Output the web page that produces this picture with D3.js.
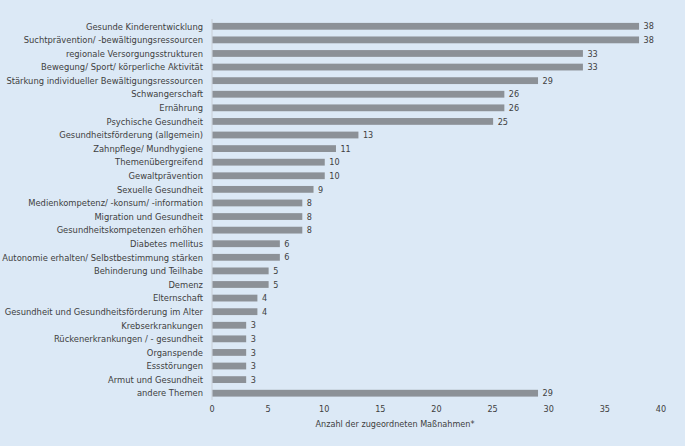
<!DOCTYPE html>
<html><head><meta charset="utf-8">
<script src="https://cdn.jsdelivr.net/npm/d3@7"></script>
<style>
body { margin: 0; background: #dce9f6; }
text { font-family: 'Liberation Sans Narrow', 'DejaVu Sans Condensed', sans-serif; fill: #404040; }
</style></head>
<body><div id="chart"></div>
<script>
const categories = ['Gesunde Kinderentwicklung', 'Suchtprävention/ -bewältigungsressourcen', 'regionale Versorgungsstrukturen',
  'Bewegung/ Sport/ körperliche Aktivität', 'Stärkung individueller Bewältigungsressourcen', 'Schwangerschaft', 'Ernährung',
  'Psychische Gesundheit', 'Gesundheitsförderung (allgemein)', 'Zahnpflege/ Mundhygiene', 'Themenübergreifend', 'Gewaltprävention',
  'Sexuelle Gesundheit', 'Medienkompetenz/ -konsum/ -information', 'Migration und Gesundheit', 'Gesundheitskompetenzen erhöhen',
  'Diabetes mellitus', 'Autonomie erhalten/ Selbstbestimmung stärken', 'Behinderung und Teilhabe', 'Demenz', 'Elternschaft',
  'Gesundheit und Gesundheitsförderung im Alter', 'Krebserkrankungen', 'Rückenerkrankungen / - gesundheit', 'Organspende',
  'Essstörungen', 'Armut und Gesundheit', 'andere Themen'];
const values = [38, 38, 33, 33, 29, 26, 26, 25, 13, 11, 10, 10, 9, 8, 8, 8, 6, 6, 5, 5, 4, 4, 3, 3, 3, 3, 3, 29];
const xTicks = [0, 5, 10, 15, 20, 25, 30, 35, 40];

const W = 685, H = 446;
const svg = d3.select('#chart').append('svg').attr('width', W).attr('height', H);

const x = d3.scaleLinear().domain([0, 40]).range([212, 661]);
const y = d3.scaleBand().domain(categories).range([19.5, 400]).paddingInner(0.5).paddingOuter(0.25);

// left axis line
svg.append('line').attr('x1', 212).attr('x2', 212).attr('y1', 19).attr('y2', 400)
  .attr('stroke', '#c8ced6').attr('stroke-width', 1);

svg.selectAll('rect.bar').data(values).enter().append('rect')
  .attr('class', 'bar')
  .attr('x', x(0) + 0.5)
  .attr('y', (d, i) => y(categories[i]))
  .attr('width', (d) => x(d) - x(0))
  .attr('height', y.bandwidth())
  .attr('fill', '#8c9197');

svg.selectAll('text.val').data(values).enter().append('text')
  .attr('x', (d) => x(d) + 5)
  .attr('y', (d, i) => y(categories[i]) + y.bandwidth() / 2)
  .attr('dy', '0.35em')
  .attr('font-size', 9)
  .text((d) => d);

svg.selectAll('text.cat').data(categories).enter().append('text')
  .attr('x', 203)
  .attr('y', (d) => y(d) + y.bandwidth() / 2)
  .attr('dy', '0.35em')
  .attr('text-anchor', 'end')
  .attr('font-size', 9.3)
  .text((d) => d);

svg.selectAll('text.tick').data(xTicks).enter().append('text')
  .attr('x', (d) => x(d))
  .attr('y', 412)
  .attr('text-anchor', 'middle')
  .attr('font-size', 9)
  .text((d) => d);

svg.append('text').attr('x', 395).attr('y', 427).attr('text-anchor', 'middle')
  .attr('font-size', 9).text('Anzahl der zugeordneten Maßnahmen*');
</script></body></html>
